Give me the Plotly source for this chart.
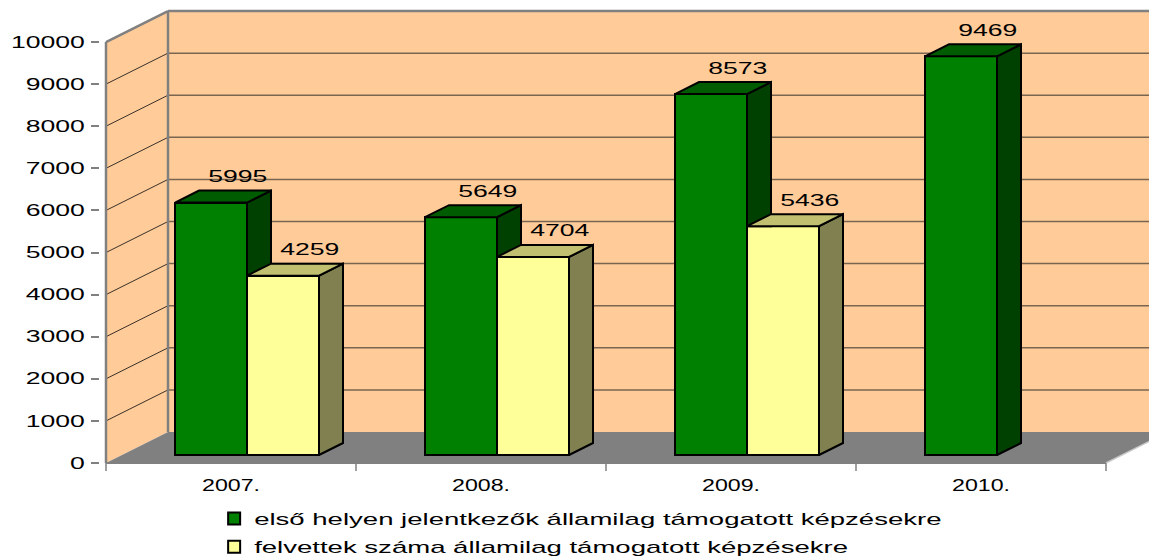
import plotly.graph_objects as go

# ---------------- data ----------------
categories = ["2007.", "2008.", "2009.", "2010."]
applicants = [5995, 5649, 8573, 9469]          # első helyen jelentkezők
admitted = [4259, 4704, 5436, None]            # felvettek száma
series_names = [
    "első helyen jelentkezők államilag támogatott képzésekre",
    "felvettek száma államilag támogatott képzésekre",
]
y_ticks = list(range(0, 10001, 1000))
y_tick_text = [str(v) for v in y_ticks]

# ---------------- styling / geometry ----------------
FONT = "Liberation Sans, Arial, sans-serif"
FRONT = ["#008000", "#FFFF99"]
SIDE = ["#004000", "#808050"]
TOP = ["#005C00", "#C0C070"]
WALL = "#FFCC99"
FLOOR = "#808080"
AXIS = "#808080"

BAR_W = 0.288            # bar width in category units
DX0, DY0 = 0.064, 190    # bar front face offset into depth (x units, y units)
DDX, DDY = 0.096, 285    # bar depth
WALL_DX, WALL_DY = 0.248, 736
X_RANGE = [-0.524, 3.672]
Y_RANGE = [-285, 10808]
offsets = [-BAR_W / 2 + DX0, BAR_W / 2 + DX0]

idx = list(range(len(categories)))
series = [applicants, admitted]

fig = go.Figure()

# front faces as bars
for s, vals in enumerate(series):
    fig.add_trace(go.Bar(
        x=[i + offsets[s] for i in idx], y=vals, base=DY0, width=BAR_W,
        marker=dict(color=FRONT[s], line=dict(color="black", width=2)),
        name=series_names[s], legendgroup=f"g{s}", hoverinfo="skip",
    ))

# side and top faces (3D effect), derived from the data
for s, vals in enumerate(series):
    for i in idx:
        v = vals[i]
        if v is None:
            continue
        xl = i + offsets[s] - BAR_W / 2
        xr = xl + BAR_W
        b, t = DY0, DY0 + v
        nxt = series[s + 1][i] if s + 1 < len(series) else None
        if nxt is not None and DY0 + nxt < t:
            bc = DY0 + nxt
            sx = [xr, xr + DDX, xr + DDX, xr, xr]
            sy = [bc, bc, t + DDY, t, bc]
        else:
            sx = [xr, xr + DDX, xr + DDX, xr, xr]
            sy = [b, b + DDY, t + DDY, t, b]
        fig.add_trace(go.Scatter(x=sx, y=sy, mode="lines", fill="toself",
                                 fillcolor=SIDE[s], line=dict(color="black", width=2),
                                 showlegend=False, hoverinfo="skip"))
        tx = [xl, xl + DDX, xr + DDX, xr, xl]
        ty = [t, t + DDY, t + DDY, t, t]
        fig.add_trace(go.Scatter(x=tx, y=ty, mode="lines", fill="toself",
                                 fillcolor=TOP[s], line=dict(color="black", width=2),
                                 showlegend=False, hoverinfo="skip"))

# value labels
annotations = []
for s, vals in enumerate(series):
    for i in idx:
        v = vals[i]
        if v is None:
            continue
        annotations.append(dict(
            x=i + offsets[s] + 0.108, y=DY0 + v, xref="x", yref="y",
            text=str(v), showarrow=False, yanchor="middle", yshift=26,
            font=dict(family=FONT, size=16, color="black"),
        ))

# walls, floor, gridlines
x0, x1 = -0.5, len(categories) - 0.5
bx0 = x0 + WALL_DX
ymax = y_ticks[-1]
xr_end = x1 + WALL_DX + 0.3
shapes = [
    dict(type="rect", x0=bx0, x1=xr_end, y0=WALL_DY, y1=ymax + WALL_DY,
         fillcolor=WALL, line=dict(width=0), layer="below"),
    dict(type="path", path=f"M {x0},0 L {x0},{ymax} L {bx0},{ymax + WALL_DY} L {bx0},{WALL_DY} Z",
         fillcolor=WALL, line=dict(width=0), layer="below"),
    dict(type="path", path=f"M {x0},0 L {x1},0 L {x1 + WALL_DX},{WALL_DY} L {bx0},{WALL_DY} Z",
         fillcolor=FLOOR, line=dict(width=0), layer="below"),
]
for v in y_ticks[1:-1]:
    shapes.append(dict(type="line", x0=bx0, x1=xr_end, y0=v + WALL_DY, y1=v + WALL_DY,
                       line=dict(color="#7A6650", width=1.5), layer="below"))
    shapes.append(dict(type="line", x0=x0, x1=bx0, y0=v, y1=v + WALL_DY,
                       line=dict(color="#3A3028", width=1), layer="below"))
shapes += [
    dict(type="line", x0=x0, x1=bx0, y0=ymax, y1=ymax + WALL_DY, line=dict(color=AXIS, width=2.5), layer="below"),
    dict(type="line", x0=bx0, x1=xr_end, y0=ymax + WALL_DY, y1=ymax + WALL_DY,
         line=dict(color=AXIS, width=2.5), layer="below"),
    dict(type="line", x0=bx0, x1=bx0, y0=WALL_DY, y1=ymax + WALL_DY, line=dict(color=AXIS, width=2.5), layer="below"),
    dict(type="line", x0=x0, x1=x0, y0=0, y1=ymax, line=dict(color=AXIS, width=2.5), layer="below"),
    dict(type="line", x0=x0, x1=x1, y0=0, y1=0, line=dict(color=AXIS, width=2), layer="below"),
    dict(type="line", x0=x1, x1=x1 + WALL_DX, y0=0, y1=WALL_DY, line=dict(color="#C8C8C8", width=1.5), layer="below"),
]
for k in range(len(categories) + 1):
    shapes.append(dict(type="line", xref="x", yref="y", x0=x0 + k, x1=x0 + k,
                       ysizemode="pixel", yanchor=0, y0=0, y1=-8,
                       line=dict(color=AXIS, width=1.5)))

fig.update_layout(
    width=1149, height=557,
    margin=dict(l=100, r=0, t=8, b=82, pad=0, autoexpand=False),
    paper_bgcolor="white", plot_bgcolor="white",
    barmode="overlay", bargap=0,
    showlegend=True,
    legend=dict(x=0.1088, y=-90 / 467, xanchor="left", yanchor="bottom",
                orientation="v", font=dict(family=FONT, size=17, color="black"),
                tracegroupgap=3, itemwidth=30, bgcolor="rgba(0,0,0,0)"),
    xaxis=dict(range=X_RANGE, tickvals=idx, ticktext=categories, showgrid=False,
               zeroline=False, showline=False, ticks="", ticklabelstandoff=-2, automargin=False,
               tickfont=dict(family=FONT, size=17, color="black"), fixedrange=True),
    yaxis=dict(range=Y_RANGE, tickvals=y_ticks, ticktext=y_tick_text, showgrid=False, zeroline=False,
               showline=False, ticks="outside", ticklen=8, tickwidth=1.5, tickcolor=AXIS,
               ticklabelstandoff=3, automargin=False,
               tickfont=dict(family=FONT, size=16, color="black"), fixedrange=True),
    shapes=shapes,
    annotations=annotations,
    font=dict(family=FONT),
)

post = """
document.body.style.margin = '0';
var gd = document.getElementById('{plot_id}');
function stretch(sel, k) {
  gd.querySelectorAll(sel).forEach(function (t) {
    if (t.hasAttribute('textLength')) return;
    var w = t.getComputedTextLength();
    if (w > 0) {
      t.setAttribute('textLength', (w * k).toFixed(1));
      t.setAttribute('lengthAdjust', 'spacingAndGlyphs');
    }
  });
}
function applyAll() {
  stretch('.ytick text', 1.66);
  stretch('.xtick text', 1.36);
  stretch('.annotation-text', 1.66);
  stretch('.legendtext', 1.62);
  gd.querySelectorAll('.legend [clip-path]').forEach(function (e) { e.removeAttribute('clip-path'); });
}
applyAll();
gd.on('plotly_afterplot', applyAll);
setTimeout(applyAll, 50);
setTimeout(applyAll, 300);
"""

fig.write_html("out.html", config={"displayModeBar": False}, post_script=post)
